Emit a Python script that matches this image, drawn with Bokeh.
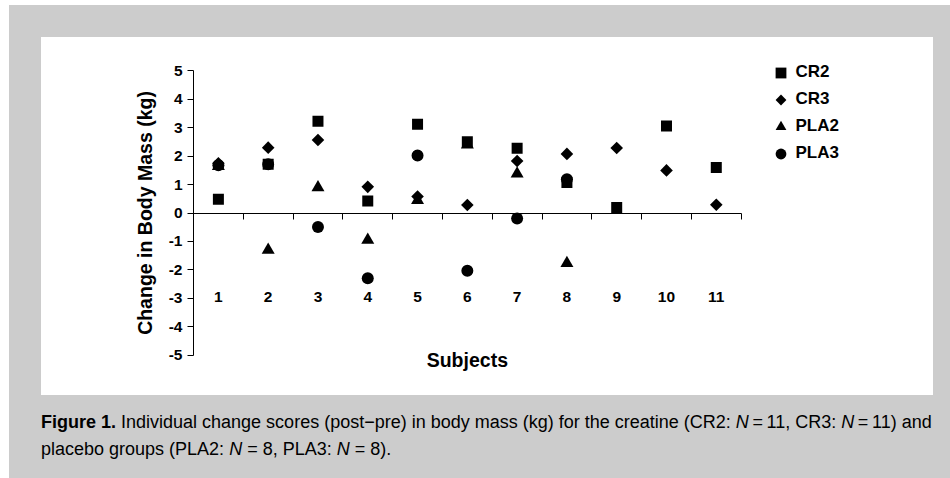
from bokeh.plotting import figure
from bokeh.models import (Range1d, LinearAxis, FixedTicker, Legend, LegendItem,
                          Div, Label)
from bokeh.layouts import column
from bokeh.embed import file_html
from bokeh.resources import INLINE

# ---- data ----
subjects = [1, 2, 3, 4, 5, 6, 7, 8, 9, 10, 11]
cr2 = [0.48, 1.72, 3.23, 0.42, 3.12, 2.51, 2.28, 1.07, 0.19, 3.06, 1.60]
cr3 = [1.75, 2.30, 2.57, 0.92, 0.58, 0.28, 1.83, 2.08, 2.29, 1.50, 0.29]
pla_subjects = [1, 2, 3, 4, 5, 6, 7, 8]
pla2 = [1.65, -1.30, 0.90, -0.95, 0.45, 2.40, 1.38, -1.77]
pla3 = [1.68, 1.72, -0.49, -2.30, 2.02, -2.03, -0.19, 1.19]
y_ticks = [-5, -4, -3, -2, -1, 0, 1, 2, 3, 4, 5]
y_tick_labels = ["-5", "-4", "-3", "-2", "-1", "0", "1", "2", "3", "4", "5"]
x_boundaries = [s - 0.5 for s in subjects] + [subjects[-1] + 0.5]

FONT = "Liberation Sans"

# frame is a little larger than the axes so that legend / title are not clipped
p = figure(frame_width=707, frame_height=325,
           x_range=Range1d(0.5, 14.7), y_range=Range1d(-5.72, 5.72),
           x_axis_location=None, output_backend="svg", toolbar_location=None,
           min_border_left=152, min_border_right=33, min_border_top=13,
           min_border_bottom=20)
p.margin = (32, 17, 0, 32)
p.styles = {"background-color": "white"}
p.grid.visible = False
p.outline_line_color = None
p.background_fill_alpha = 0
p.border_fill_alpha = 0

# y axis
ya = p.yaxis[0]
ya.bounds = (y_ticks[0], y_ticks[-1])
ya.ticker = FixedTicker(ticks=y_ticks)
ya.major_label_overrides = {t: lab for t, lab in zip(y_ticks, y_tick_labels)}
ya.axis_label = "Change in Body Mass (kg)"
ya.axis_label_text_font = FONT
ya.axis_label_text_font_style = "bold"
ya.axis_label_text_font_size = "19.5px"
ya.axis_label_text_color = "black"
ya.axis_label_standoff = 10
ya.major_label_text_font = FONT
ya.major_label_text_font_style = "bold"
ya.major_label_text_font_size = "15.5px"
ya.major_label_text_color = "black"
ya.major_label_standoff = 5
ya.major_tick_out = 6
ya.major_tick_in = 0
ya.minor_tick_line_color = None
ya.axis_line_color = "black"
ya.major_tick_line_color = "black"

# x axis at y = 0
xa = LinearAxis(fixed_location=0, bounds=(x_boundaries[0], x_boundaries[-1]),
                ticker=FixedTicker(ticks=subjects, minor_ticks=x_boundaries))
xa.major_label_text_font = FONT
xa.major_label_text_font_style = "bold"
xa.major_label_text_font_size = "15.5px"
xa.major_label_text_color = "black"
xa.major_label_standoff = 73
xa.major_tick_line_color = None
xa.major_tick_out = 0
xa.major_tick_in = 0
xa.minor_tick_line_color = "black"
xa.minor_tick_out = 6
xa.minor_tick_in = 0
xa.axis_line_color = "black"
p.add_layout(xa, "below")

# x axis title
p.add_layout(Label(x=(subjects[0] + subjects[-1]) / 2, y=y_ticks[0], text="Subjects",
                   text_align="center", text_baseline="middle", y_offset=-5,
                   text_font=FONT, text_font_style="bold",
                   text_font_size="19.5px", text_color="black"))

# markers
r_pla3 = p.scatter(pla_subjects, pla3, marker="circle", size=12,
                   fill_color="black", line_color=None)
r_pla2 = p.scatter(pla_subjects, pla2, marker="triangle", size=13,
                   fill_color="black", line_color=None)
r_cr3 = p.ngon(subjects, cr3, radius=6.3, n=4, radius_units="screen",
               fill_color="black", line_color=None)
r_cr2 = p.scatter(subjects, cr2, marker="square", size=11,
                  fill_color="black", line_color=None)

legend = Legend(items=[LegendItem(label="CR2", renderers=[r_cr2]),
                       LegendItem(label="CR3", renderers=[r_cr3]),
                       LegendItem(label="PLA2", renderers=[r_pla2]),
                       LegendItem(label="PLA3", renderers=[r_pla3])],
                location=(573.5, 208.5),
                glyph_width=27, glyph_height=27, label_height=27,
                spacing=0, padding=0, margin=0, label_standoff=2,
                border_line_color=None, background_fill_alpha=0,
                label_text_font=FONT, label_text_font_style="bold",
                label_text_font_size="17px", label_text_color="black")
p.add_layout(legend, "center")

caption = Div(
    text=('<b>Figure 1.</b> Individual change scores (post\u2212pre) in body mass (kg) '
          'for the creatine (CR2: <i>N</i>\u2009=\u200911, CR3: <i>N</i>\u2009=\u200911) and<br>'
          'placebo groups (PLA2: <i>N</i> = 8, PLA3: <i>N</i> = 8).'),
    width=892, height=70,
    styles={"font-family": "'Liberation Sans', Arial, sans-serif",
            "font-size": "18px", "line-height": "27px", "color": "black",
            "white-space": "nowrap"})
caption.margin = (14, 17, 0, 32)

layout = column(p, caption, styles={"background-color": "#cccccc"})
layout.margin = (5, 0, 0, 9)

open("out.html", "w").write(file_html(layout, INLINE))
